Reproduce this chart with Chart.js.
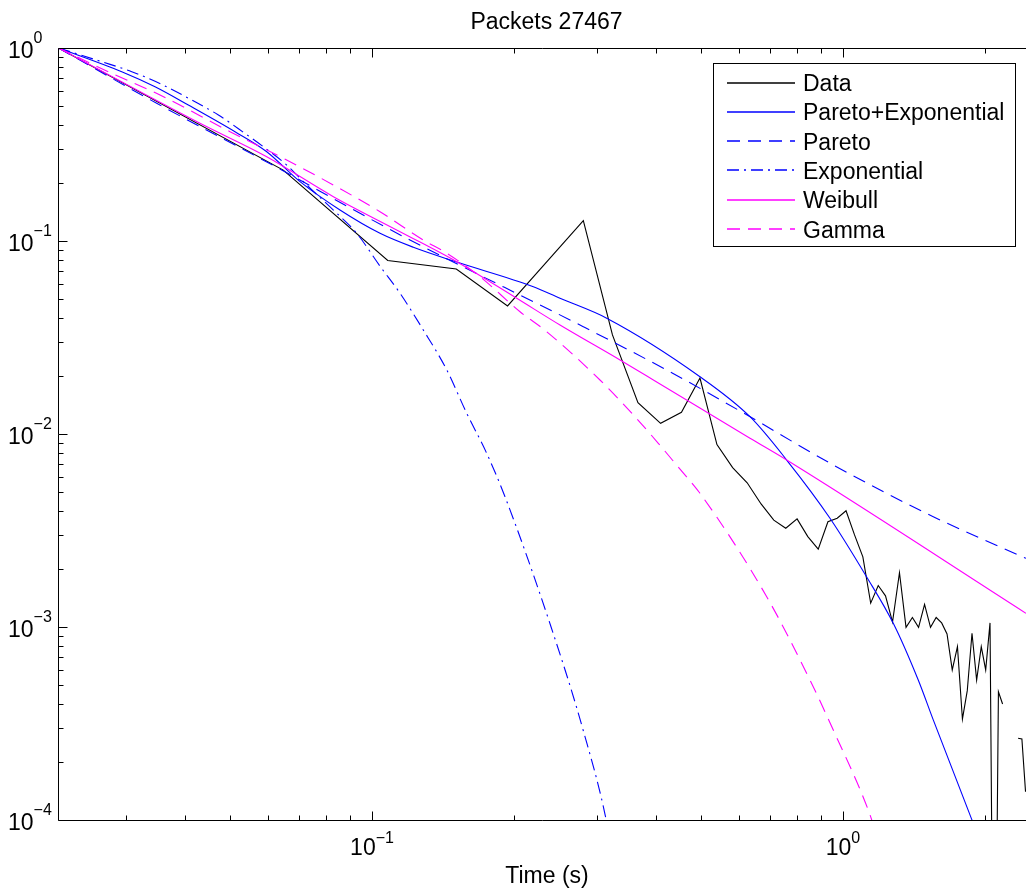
<!DOCTYPE html>
<html>
<head>
<meta charset="utf-8">
<title>Packets 27467</title>
<script src="https://cdn.jsdelivr.net/npm/chart.js@4/dist/chart.umd.min.js"></script>
<style>
  html, body { margin: 0; padding: 0; background: #fff; }
  #wrap { width: 1026px; height: 888px; }
</style>
</head>
<body>
<div id="wrap"><canvas id="ccdf" width="1026" height="888"></canvas></div>
<script>
const titleText = 'Packets 27467';
const xAxisLabel = 'Time (s)';
const seriesNames = ['Data', 'Pareto+Exponential', 'Pareto', 'Exponential', 'Weibull', 'Gamma'];
const seriesColors = ['#000000', '#0000ff', '#0000ff', '#0000ff', '#ff00ff', '#ff00ff'];
const seriesDashes = [[], [], [13, 8], [12, 5, 2, 5], [], [13, 8]];

// decades that get a "10^n" label
const xTickExps = [-1, 0];
const yTickExps = [0, -1, -2, -3, -4];

// measured interval distribution (bin centres, s)
const dataX = [0.0216, 0.0648, 0.108, 0.151, 0.194, 0.238, 0.281, 0.324, 0.367, 0.410,
  0.454, 0.497, 0.540, 0.583, 0.626, 0.670, 0.713, 0.756, 0.799, 0.842,
  0.886, 0.929, 0.972, 1.015, 1.058, 1.102, 1.145, 1.188, 1.231, 1.274,
  1.318, 1.361, 1.404, 1.447, 1.490, 1.534, 1.577, 1.620, 1.663, 1.706,
  1.750, 1.793, 1.836, 1.879, 1.922, 1.966, 2.009, 2.052, 2.095, 2.138,
  2.182, 2.225, 2.268, 2.311, 2.354, 2.398, 2.441];
const dataY = [1.0, 0.233, 0.0793, 0.0716, 0.0461, 0.0808, 0.1274, 0.0326, 0.01453, 0.01136,
  0.01296, 0.0195, 0.00882, 0.0067, 0.00559, 0.00434, 0.00358, 0.00325, 0.00363, 0.00294,
  0.00253, 0.00351, 0.00366, 0.0040, 0.0030, 0.00231, 0.00133, 0.00164, 0.00145, 0.00106,
  0.00191, 0.000996, 0.00112, 0.000996, 0.00131, 0.000996, 0.00112, 0.00105, 0.00092, 0.000599,
  0.000791, 0.000333, 0.000468, 0.000928, 0.000531, 0.000791, 0.000599, 0.00105, 0.000002, 0.000462,
  0.000399, null, null, null, 0.000265, 0.000263, 0.00014];

// fitted curves
const peX = [0.0216, 0.02942, 0.03462, 0.04074, 0.05119, 0.05977, 0.07034, 0.08551, 0.1040, 0.1224,
  0.1513, 0.2201, 0.2507, 0.3150, 0.4970, 0.6347, 0.7594, 0.9384, 1.1228, 1.2787,
  1.4447, 1.5548, 1.8764, 2.051];
const peY = [1.0, 0.754, 0.630, 0.5066, 0.3684, 0.2902, 0.2029, 0.1447, 0.1096, 0.0928,
  0.0778, 0.0580, 0.0505, 0.0398, 0.01981, 0.01229, 0.00733, 0.00366, 0.001816, 0.001045,
  0.000531, 0.00033, 0.0001008, 0.0000585];

const paretoX = [0.0216, 0.0349, 0.06431, 0.0943, 0.1204, 0.2809, 0.4222, 0.6045, 0.9537, 1.5548, 2.446];
const paretoY = [1.0, 0.517, 0.2333, 0.1391, 0.1012, 0.03597, 0.02146, 0.01316, 0.00691, 0.003728, 0.00227];

const expX = [0.0216, 0.02668, 0.0309, 0.0360, 0.0414, 0.0472, 0.0537, 0.0588, 0.0659, 0.0727,
  0.0828, 0.0928, 0.1042, 0.1147, 0.1285, 0.1441, 0.1589, 0.1752, 0.1916, 0.240, 0.281, 0.3148, 0.33];
const expY = [1.0, 0.849, 0.754, 0.643, 0.538, 0.4496, 0.3614, 0.308, 0.2475, 0.195,
  0.1447, 0.1096, 0.0736, 0.0536, 0.0346, 0.0215, 0.0128, 0.00794, 0.00473, 0.0010, 0.00029, 0.000098, 0.00005];

const weibullX = [0.0216, 0.04313, 0.05977, 0.0828, 0.1147, 0.1513, 0.2029, 0.2507, 0.3362, 0.3957, 0.6347, 0.7594, 2.446];
const weibullY = [1.0, 0.4073, 0.2734, 0.1697, 0.1117, 0.0781, 0.0505, 0.0367, 0.02417, 0.01905, 0.0095, 0.00733, 0.001178];

const gammaX = [0.0216, 0.02801, 0.03548, 0.04995, 0.0659, 0.0828, 0.1040, 0.1285, 0.1441, 0.1696,
  0.2062, 0.2349, 0.3048, 0.3618, 0.4054, 0.4508, 0.4970, 0.6887, 0.851, 0.9537, 1.1315, 1.198];
const gammaY = [1.0, 0.7396, 0.5707, 0.3684, 0.2628, 0.195, 0.1418, 0.1012, 0.0864, 0.0653,
  0.043, 0.0339, 0.01905, 0.01229, 0.00895, 0.00657, 0.00493, 0.001435, 0.000531, 0.0002926, 0.0001126, 0.000074];

const FONT = '"Liberation Sans", Arial, Helvetica, sans-serif';

function toPoints(xs, ys) {
  return xs.map((x, i) => ({ x: x, y: ys[i] }));
}

// i indexes seriesNames / seriesColors / seriesDashes
function series(i, xs, ys, smooth) {
  return {
    label: seriesNames[i],
    data: toPoints(xs, ys),
    borderColor: seriesColors[i],
    borderWidth: 1.1,
    borderDash: seriesDashes[i],
    pointRadius: 0,
    fill: false,
    cubicInterpolationMode: smooth ? 'monotone' : 'default',
    tension: 0,
    spanGaps: false,
    order: 6 - i
  };
}

// "10" with a raised exponent
function powerLabel(ctx, exp, x, baseY, supY, align) {
  const base = '10';
  const sup = String(exp).replace('-', '\u2212');
  ctx.font = '23px ' + FONT;
  const wb = ctx.measureText(base).width;
  ctx.font = '16px ' + FONT;
  const ws = ctx.measureText(sup).width;
  let left = x;
  if (align === 'center') left = x - (wb + ws) / 2;
  ctx.textAlign = 'left';
  ctx.textBaseline = 'alphabetic';
  ctx.font = '23px ' + FONT;
  ctx.fillText(base, left, baseY);
  ctx.font = '16px ' + FONT;
  ctx.fillText(sup, left + wb, supY);
}

const matlabAxes = {
  id: 'matlabAxes',
  afterDatasetsDraw(chart) {
    const { ctx, chartArea: a, scales } = chart;
    const xs = scales.x, ys = scales.y;
    const L = Math.round(a.left) + 0.5, T = Math.round(a.top) + 0.5, B = Math.round(a.bottom) + 0.5;
    ctx.save();
    ctx.strokeStyle = '#000';
    ctx.fillStyle = '#000';
    ctx.lineWidth = 1;
    ctx.setLineDash([]);

    // frame; right side runs off the canvas
    ctx.beginPath();
    ctx.moveTo(a.right + 2, T);
    ctx.lineTo(L, T);
    ctx.lineTo(L, B);
    ctx.lineTo(a.right + 2, B);
    ctx.stroke();

    // inward ticks, majors longer
    ctx.beginPath();
    for (let e = -2; e <= 0; e++) {
      for (let m = 1; m <= 9; m++) {
        const v = m * Math.pow(10, e);
        if (v < xs.min * 1.001 || v > xs.max) continue;
        const px = Math.round(xs.getPixelForValue(v)) + 0.5;
        const len = m === 1 ? 9 : 5;
        ctx.moveTo(px, B); ctx.lineTo(px, B - len);
        ctx.moveTo(px, T); ctx.lineTo(px, T + len);
      }
    }
    for (let e = -4; e <= 0; e++) {
      for (let m = 1; m <= 9; m++) {
        const v = m * Math.pow(10, e);
        if (v > ys.max * 1.001) continue;
        const py = Math.round(ys.getPixelForValue(v)) + 0.5;
        const len = m === 1 ? 9 : 5;
        ctx.moveTo(L, py); ctx.lineTo(L + len, py);
      }
    }
    ctx.stroke();

    // decade labels
    xTickExps.forEach(e => {
      const px = xs.getPixelForValue(Math.pow(10, e));
      powerLabel(ctx, e, px, a.bottom + 35, a.bottom + 23, 'center');
    });
    yTickExps.forEach(e => {
      const py = ys.getPixelForValue(Math.pow(10, e));
      powerLabel(ctx, e, 8, py + 9.5, py - 5, 'left');
    });

    // title and axis label
    ctx.font = '23px ' + FONT;
    ctx.textAlign = 'center';
    ctx.textBaseline = 'alphabetic';
    ctx.fillText(titleText, 546.5, 28.5);
    ctx.fillText(xAxisLabel, 547, 883);
    ctx.restore();
  }
};

const boxedLegend = {
  id: 'boxedLegend',
  afterDraw(chart) {
    const ctx = chart.ctx;
    const box = { left: 713.5, top: 63.5, right: 1015.5, bottom: 246.5 };
    ctx.save();
    ctx.fillStyle = '#fff';
    ctx.fillRect(box.left, box.top, box.right - box.left, box.bottom - box.top);
    ctx.strokeStyle = '#000';
    ctx.lineWidth = 1;
    ctx.setLineDash([]);
    ctx.strokeRect(box.left, box.top, box.right - box.left, box.bottom - box.top);

    ctx.font = '23px ' + FONT;
    ctx.textAlign = 'left';
    ctx.textBaseline = 'alphabetic';
    seriesNames.forEach((name, i) => {
      const cy = 82.5 + i * 29.3;
      // sample line straddles two pixel rows so its colour holds up
      const ly = Math.round(cy);
      ctx.save();
      ctx.strokeStyle = seriesColors[i];
      ctx.lineWidth = 1.4;
      ctx.setLineDash(seriesDashes[i]);
      ctx.beginPath();
      ctx.moveTo(727, ly);
      ctx.lineTo(795, ly);
      ctx.stroke();
      ctx.restore();
      ctx.fillStyle = '#000';
      ctx.fillText(name, 803, cy + 8.5);
    });
    ctx.restore();
  }
};

new Chart(document.getElementById('ccdf'), {
  type: 'line',
  data: {
    datasets: [
      series(0, dataX, dataY, false),
      series(1, peX, peY, true),
      series(2, paretoX, paretoY, true),
      series(3, expX, expY, true),
      series(4, weibullX, weibullY, true),
      series(5, gammaX, gammaY, true)
    ]
  },
  options: {
    responsive: false,
    devicePixelRatio: 1,
    animation: false,
    layout: { padding: { left: 58, top: 48, right: 0, bottom: 68 } },
    plugins: {
      legend: { display: false },
      tooltip: { enabled: false },
      title: { display: false }
    },
    scales: {
      x: { type: 'logarithmic', min: 0.021544, max: 2.4466, display: false },
      y: { type: 'logarithmic', min: 0.0001, max: 1, display: false }
    }
  },
  plugins: [matlabAxes, boxedLegend]
});
</script>
</body>
</html>
